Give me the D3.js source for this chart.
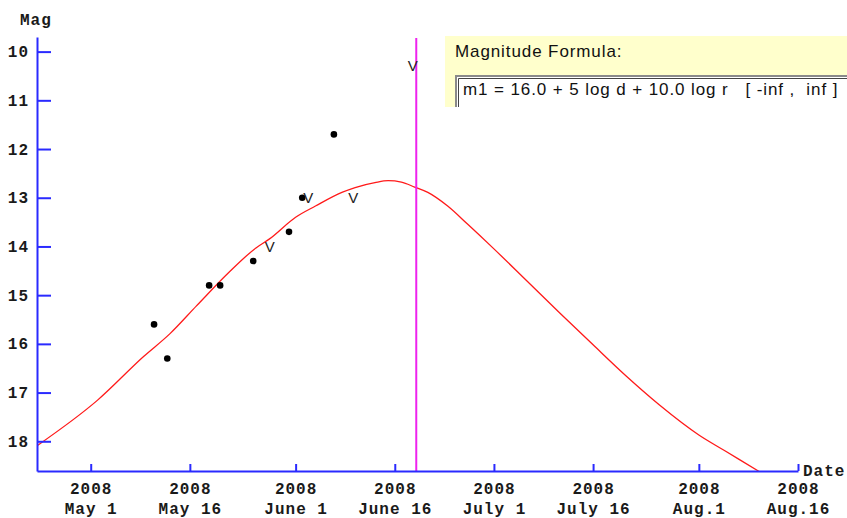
<!DOCTYPE html>
<html>
<head>
<meta charset="utf-8">
<script src="https://cdn.jsdelivr.net/npm/d3@7"></script>
<style>
  html, body { margin: 0; padding: 0; background: #fff; overflow: hidden; }
  svg { display: block; }
  .mono { font-family: "Liberation Mono", "DejaVu Sans Mono", monospace; font-size: 16px; font-weight: bold; letter-spacing: 1px; fill: #1a1a1a; }
  .sans { font-family: "Liberation Sans", Arial, sans-serif; }
</style>
</head>
<body>
<svg id="chart" width="847" height="518"></svg>
<script>
// Predicted light curve from m1 = 16.0 + 5 log d + 10.0 log r
const curveDates = [
  "2008-04-23", "2008-05-02", "2008-05-09", "2008-05-13", "2008-05-17",
  "2008-05-22", "2008-05-26", "2008-05-28", "2008-06-01", "2008-06-04",
  "2008-06-08", "2008-06-10", "2008-06-13", "2008-06-15", "2008-06-17",
  "2008-06-19", "2008-06-21", "2008-06-24", "2008-06-27", "2008-07-01",
  "2008-07-06", "2008-07-11", "2008-07-16", "2008-07-21", "2008-07-26",
  "2008-08-01", "2008-08-05", "2008-08-10", "2008-08-13"
];
const curveMags = [
  18.08, 17.16, 16.26, 15.79, 15.22,
  14.52, 14.03, 13.85, 13.40, 13.17,
  12.89, 12.79, 12.69, 12.65, 12.68,
  12.78, 12.89, 13.17, 13.54, 14.05,
  14.71, 15.37, 16.02, 16.66, 17.25,
  17.87, 18.20, 18.61, 18.86
];

// Measured magnitudes (dots)
const obsDates = [
  "2008-05-10T14:00:00Z", "2008-05-12T14:00:00Z", "2008-05-18T22:00:00Z",
  "2008-05-20T14:00:00Z", "2008-05-25T14:00:00Z", "2008-05-31T00:00:00Z",
  "2008-06-02T00:00:00Z", "2008-06-06T19:00:00Z"
];
const obsMags = [15.6, 16.3, 14.8, 14.8, 14.3, 13.7, 13.0, 11.7];

// Visual estimates (drawn as "V")
const visDates = [
  "2008-05-28T02:00:00Z", "2008-06-02T22:00:00Z",
  "2008-06-09T17:00:00Z", "2008-06-18T17:00:00Z"
];
const visMags = [14.01, 12.99, 12.99, 10.28];

// Current date marker
const currentDate = "2008-06-19T06:00:00Z";

// Axis ticks
const xTickDates = [
  "2008-05-01", "2008-05-16", "2008-06-01", "2008-06-16",
  "2008-07-01", "2008-07-16", "2008-08-01", "2008-08-16"
];
const xTickYears = ["2008", "2008", "2008", "2008", "2008", "2008", "2008", "2008"];
const xTickDays = ["May 1", "May 16", "June 1", "June 16", "July 1", "July 16", "Aug.1", "Aug.16"];
const yTicks = [10, 11, 12, 13, 14, 15, 16, 17, 18];

const formulaTitle = "Magnitude Formula:";
const formulaText = "m1 = 16.0 + 5 log d + 10.0 log r   [ -inf ,  inf ]";

const parse = s => new Date(s);

const svg = d3.select("#chart");

const x = d3.scaleUtc()
  .domain([parse("2008-04-22T21:00:00Z"), parse("2008-08-16T00:00:00Z")])
  .range([37, 798]);
const y = d3.scaleLinear()
  .domain([9.70, 18.61])
  .range([37, 471]);

const axisBlue = "#2a2aff";

// Clip region for the plotted data
svg.append("defs").append("clipPath").attr("id", "plotClip")
  .append("rect")
  .attr("x", x.range()[0]).attr("y", y.range()[0])
  .attr("width", x.range()[1] - x.range()[0])
  .attr("height", y.range()[1] - y.range()[0]);

// Predicted curve
const curve = curveDates.map((d, i) => ({ date: parse(d), mag: curveMags[i] }));
svg.append("path")
  .datum(curve)
  .attr("clip-path", "url(#plotClip)")
  .attr("fill", "none")
  .attr("stroke", "#ff1a1a")
  .attr("stroke-width", 1.3)
  .attr("d", d3.line()
    .x(d => x(d.date))
    .y(d => y(d.mag))
    .curve(d3.curveMonotoneX));

// Current date line
svg.append("line")
  .attr("x1", x(parse(currentDate))).attr("x2", x(parse(currentDate)))
  .attr("y1", y.range()[0] + 1).attr("y2", y.range()[1])
  .attr("stroke", "#ee22ee")
  .attr("stroke-width", 2);

// Y axis (ticks pointing into the plot)
const yAxis = svg.append("g")
  .attr("transform", `translate(${x.range()[0]},0)`)
  .call(d3.axisLeft(y).tickValues(yTicks).tickSize(-14).tickSizeOuter(0).tickPadding(8).tickFormat(d3.format("d")));
yAxis.select(".domain").attr("stroke", axisBlue).attr("stroke-width", 2);
yAxis.selectAll(".tick line").attr("stroke", axisBlue).attr("stroke-width", 2);
yAxis.selectAll(".tick text").attr("class", "mono").attr("font-family", null).attr("font-size", null);
yAxis.attr("font-family", null).attr("font-size", null);

// X axis
const xAxis = svg.append("g")
  .attr("transform", `translate(0,${y.range()[1]})`)
  .call(d3.axisBottom(x).tickValues(xTickDates.map(parse)).tickSize(-7).tickSizeOuter(0).tickFormat(() => ""));
xAxis.select(".domain").attr("stroke", axisBlue).attr("stroke-width", 2);
xAxis.selectAll(".tick line").attr("stroke", axisBlue).attr("stroke-width", 2);
xAxis.attr("font-family", null).attr("font-size", null);
xAxis.selectAll(".tick").each(function (d, i) {
  const t = d3.select(this).select("text").attr("class", "mono").attr("y", 0).attr("dy", null).attr("text-anchor", "middle");
  t.text(null);
  t.append("tspan").attr("x", 0).attr("y", 23).text(xTickYears[i]);
  t.append("tspan").attr("x", 0).attr("y", 43).text(xTickDays[i]);
});

// Axis titles
svg.append("text").attr("class", "mono").attr("x", 20).attr("y", 25).text("Mag");
svg.append("text").attr("class", "mono").attr("x", 803).attr("y", 476)
  .attr("letter-spacing", 0.4).text("Date");

// Measured points
svg.append("g").selectAll("circle")
  .data(obsDates.map((d, i) => ({ date: parse(d), mag: obsMags[i] })))
  .join("circle")
  .attr("cx", d => x(d.date))
  .attr("cy", d => y(d.mag))
  .attr("r", 3.3)
  .attr("fill", "#000");

// Visual estimates
svg.append("g").selectAll("text")
  .data(visDates.map((d, i) => ({ date: parse(d), mag: visMags[i] })))
  .join("text")
  .attr("class", "sans")
  .attr("x", d => x(d.date))
  .attr("y", d => y(d.mag))
  .attr("dy", "0.36em")
  .attr("text-anchor", "middle")
  .attr("font-size", 15)
  .attr("fill", "#222")
  .text("V");

// Formula panel
const panel = svg.append("g");
panel.append("rect")
  .attr("x", 445).attr("y", 36).attr("width", 410).attr("height", 71)
  .attr("fill", "#ffffcc");
panel.append("text")
  .attr("class", "sans")
  .attr("x", 455).attr("y", 57)
  .attr("font-size", 17).attr("letter-spacing", 0.9)
  .attr("fill", "#111")
  .text(formulaTitle);
panel.append("rect")
  .attr("x", 455).attr("y", 75).attr("width", 400).attr("height", 32)
  .attr("fill", "#fff");
panel.append("path")
  .attr("d", "M456,107 V76 H847")
  .attr("fill", "none").attr("stroke", "#8a8a8a").attr("stroke-width", 2);
panel.append("path")
  .attr("d", "M458.5,107 V78.5 H847")
  .attr("fill", "none").attr("stroke", "#444").attr("stroke-width", 1);
panel.append("text")
  .attr("class", "sans")
  .attr("x", 463).attr("y", 95)
  .attr("font-size", 17).attr("letter-spacing", 0.9)
  .attr("fill", "#111")
  .style("white-space", "pre")
  .text(formulaText);
</script>
</body>
</html>
